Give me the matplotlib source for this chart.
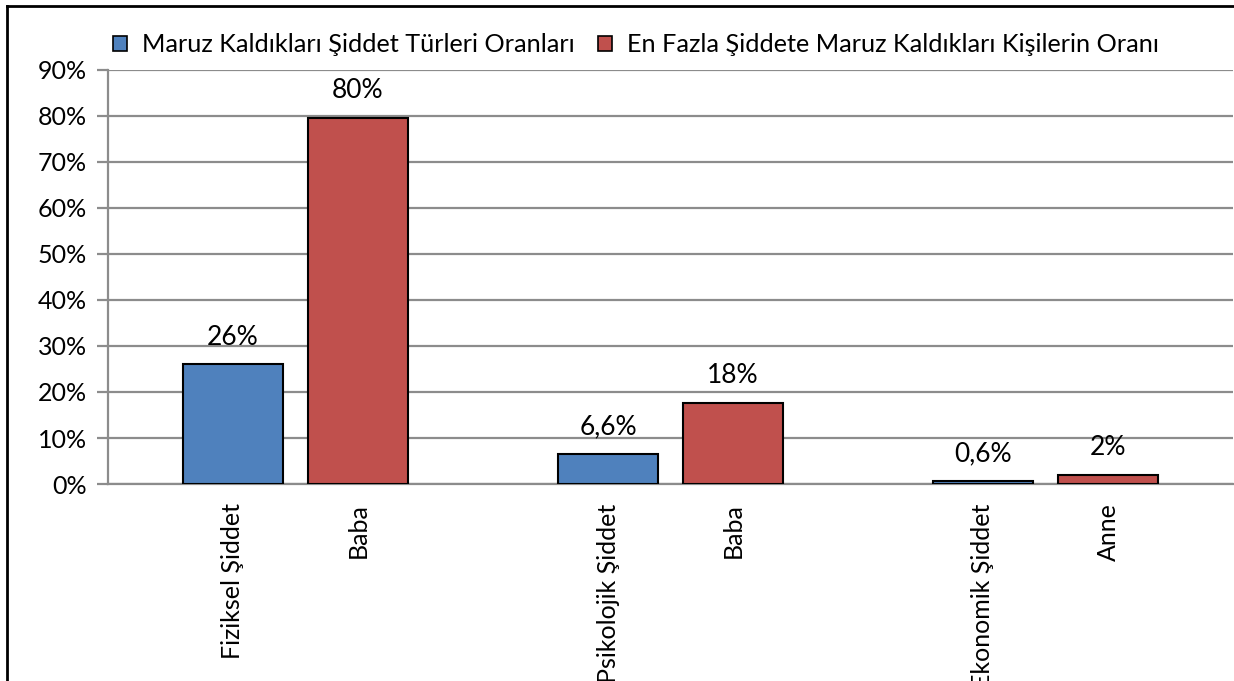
import matplotlib
matplotlib.use("Agg")
import matplotlib.pyplot as plt
from matplotlib.patches import Patch
from matplotlib.lines import Line2D
import numpy as np

plt.rcParams['font.family'] = ['Lato', 'DejaVu Sans']

groups = [0, 1, 2]
series1_name = "Maruz Kaldıkları Şiddet Türleri Oranları"
series2_name = "En Fazla Şiddete Maruz Kaldıkları Kişilerin Oranı"
series1_labels = ["Fiziksel Şiddet", "Psikolojik Şiddet", "Ekonomik Şiddet"]
series2_labels = ["Baba", "Baba", "Anne"]
series1_values = [26.0, 6.6, 0.6]
series2_values = [79.6, 17.6, 2.0]
series1_text = ["26%", "6,6%", "0,6%"]
series2_text = ["80%", "18%", "2%"]
yticks = [0, 10, 20, 30, 40, 50, 60, 70, 80, 90]

W, H = 1234, 681
fig = plt.figure(figsize=(W / 100, H / 100), dpi=100)
ax = fig.add_axes([108 / W, 1 - 484 / H, 1125 / W, (484 - 70) / H])

bw = 100 / 375
off = 62.5 / 375
x = np.array(groups, dtype=float)
blue = "#4F81BD"
red = "#C0504D"
b1 = ax.bar(x - off, series1_values, width=bw, color=blue, edgecolor="black", linewidth=1.5, zorder=3)
b2 = ax.bar(x + off, series2_values, width=bw, color=red, edgecolor="black", linewidth=1.5, zorder=3)

for bars, texts in ((b1, series1_text), (b2, series2_text)):
    for rect, t in zip(bars, texts):
        ax.annotate(t, (rect.get_x() + rect.get_width() / 2, rect.get_height()),
                    xytext=(0, 19.5), textcoords="offset points", ha="center", va="center",
                    fontsize=19)

ax.set_xlim(-0.5, 2.5)
ax.set_ylim(0, 90)
ax.set_yticks(yticks)
ax.set_yticklabels([f"{v}%" for v in yticks], fontsize=18)
ax.yaxis.grid(True, color="#8C8C8C", linewidth=1.6, zorder=0)
ax.set_axisbelow(True)

xt = np.concatenate([x - off, x + off])
xl = series1_labels + series2_labels
ax.set_xticks(xt)
ax.set_xticklabels(xl, rotation=90, fontsize=18)
ax.tick_params(axis="x", length=0, pad=14)
ax.tick_params(axis="y", length=8, color="#8C8C8C", width=1.6, pad=7)

for s in ["top", "right"]:
    ax.spines[s].set_visible(False)
ax.spines["left"].set_color("#8C8C8C")
ax.spines["left"].set_linewidth(1.6)
ax.spines["bottom"].set_color("#8C8C8C")
ax.spines["bottom"].set_linewidth(1.6)

handles = [Patch(facecolor=blue, edgecolor="black", linewidth=1.2),
           Patch(facecolor=red, edgecolor="black", linewidth=1.2)]
fig.legend(handles, [series1_name, series2_name], loc="center left",
           bbox_to_anchor=(113 / W, 1 - 45 / H), ncol=2, frameon=False,
           fontsize=18.2, handlelength=0.56, handleheight=0.56, handletextpad=0.6,
           columnspacing=0.9, borderaxespad=0, borderpad=0)

fig.add_artist(Line2D([7 / W, 7 / W], [0, 1 - 6 / H], color="black", linewidth=2))
fig.add_artist(Line2D([7 / W, 1], [1 - 6 / H, 1 - 6 / H], color="black", linewidth=2))

fig.savefig("out.png", dpi=100)
